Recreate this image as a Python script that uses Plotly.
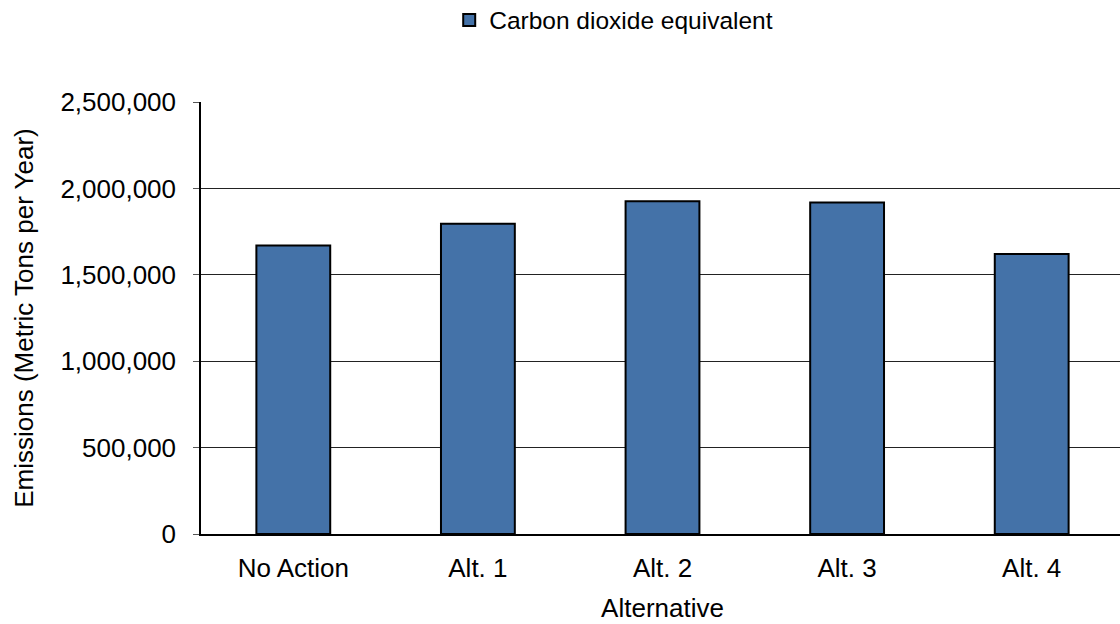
import plotly.graph_objects as go

categories = ["No Action", "Alt. 1", "Alt. 2", "Alt. 3", "Alt. 4"]
co2e = [1670000, 1795000, 1925000, 1918000, 1620000]
series_name = "Carbon dioxide equivalent"
y_ticks = [0, 500000, 1000000, 1500000, 2000000, 2500000]
y_tick_labels = ["0", "500,000", "1,000,000", "1,500,000", "2,000,000", "2,500,000"]

fig = go.Figure()
fig.add_trace(go.Bar(
    x=categories, y=co2e, name=series_name,
    marker=dict(color="#4472A8", line=dict(color="#000000", width=2)),
    width=0.4, showlegend=True,
))

font = "Liberation Sans, Arial, sans-serif"
fig.update_layout(
    width=1124, height=624,
    margin=dict(l=201, r=0, t=102, b=90),
    paper_bgcolor="white", plot_bgcolor="white",
    font=dict(family=font, size=26, color="#000000"),
    showlegend=True,
    legend=dict(orientation="h", x=0.546, xanchor="center", xref="container",
                y=1 - 20 / 624, yanchor="middle", yref="container",
                font=dict(size=24.5), itemwidth=30, traceorder="normal"),
    xaxis=dict(
        title=dict(text="Alternative", font=dict(size=26), standoff=17),
        showline=True, linecolor="#000000", linewidth=1.5,
        ticks="", tickfont=dict(size=26), showgrid=False,
        ticklabelstandoff=10,
        range=[-0.5, 4.5],
    ),
    yaxis=dict(
        title=dict(text="Emissions (Metric Tons per Year)", font=dict(size=26), standoff=19),
        range=[0, 2500000], tickvals=y_ticks, ticktext=y_tick_labels,
        showline=True, linecolor="#000000", linewidth=1.5,
        ticks="outside", ticklen=6, tickcolor="#555555",
        ticklabelstandoff=12,
        showgrid=True, gridcolor="#222222", gridwidth=1,
        zeroline=False, tickfont=dict(size=26),
    ),
    bargap=0.6,
)
fig.write_html("out.html", config={"displayModeBar": False},
               post_script="document.body.style.margin='0';document.body.style.overflow='hidden';")
